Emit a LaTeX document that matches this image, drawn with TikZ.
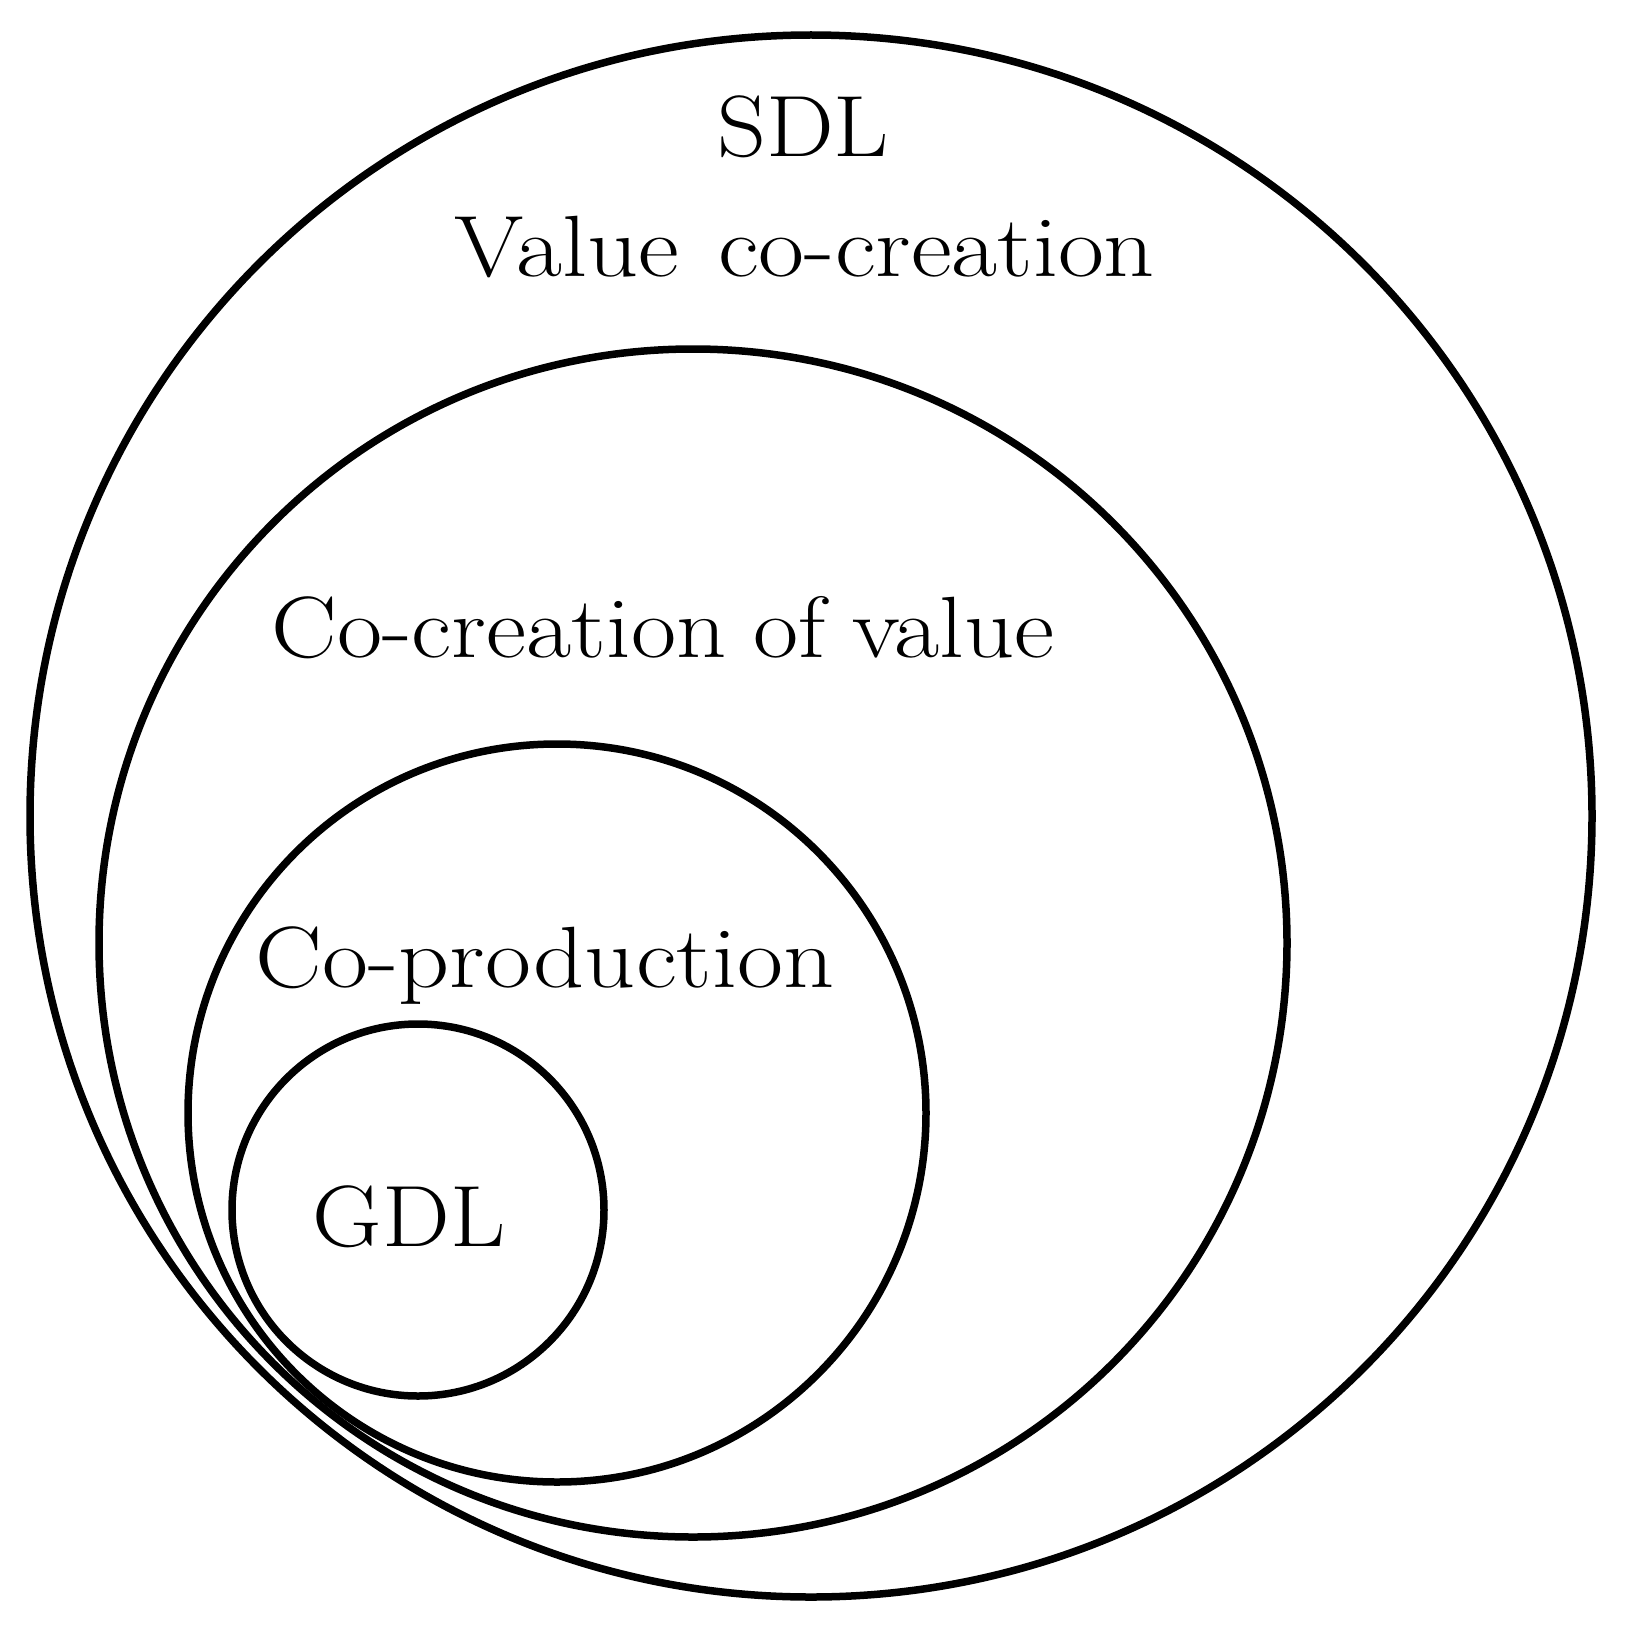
\documentclass[tikz,border=0pt]{standalone}
\usepackage{fontspec}
\newfontfamily\labfont{Latin Modern Roman}[FakeStretch=1.1,WordSpace=1.3]
\newfontfamily\labfontw{Latin Modern Roman}[FakeStretch=1.15,WordSpace=1.3]
\newfontfamily\labfontn{Latin Modern Roman}[FakeStretch=1.13,WordSpace=0.9]
\begin{document}
\begin{tikzpicture}[x=1pt,y=-1pt,
  ring/.style={draw=black,line width=7.5pt},
  lab/.style={inner sep=0pt,anchor=base,font=\labfont\fontsize{87}{100}\selectfont},
  labw/.style={lab,font=\labfontw\fontsize{87}{100}\selectfont},
  labn/.style={lab,font=\labfontn\fontsize{87}{100}\selectfont}]
\useasboundingbox[fill=white] (0,0) rectangle (1628,1640);
\coordinate (c1) at (811,816);
\coordinate (c2) at (693,943);
\coordinate (c3) at (557,1113);
\coordinate (c4) at (418,1210);
\draw[ring] (c1) circle[radius=781];
\draw[ring] (c2) circle[radius=594];
\draw[ring] (c3) circle[radius=369];
\draw[ring] (c4) circle[radius=186];
\node[lab] (sdl) at (803,157) {SDL};
\node[labw] (vcc) at (805,276) {Value co-creation};
\node[labn] (ccv) at (663,657) {Co-creation of value};
\node[labw] (cop) at (545,987) {Co-production};
\node[lab] (gdl) at (409,1246) {GDL};
\end{tikzpicture}
\end{document}
